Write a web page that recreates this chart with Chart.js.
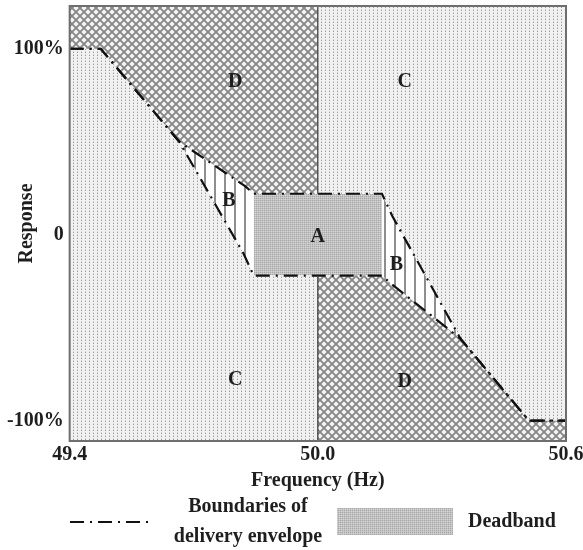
<!DOCTYPE html>
<html>
<head>
<meta charset="utf-8">
<script src="https://cdn.jsdelivr.net/npm/chart.js@4.4.0/dist/chart.umd.min.js"></script>
<style>
  html, body { margin: 0; padding: 0; background: #fff; }
  #wrap { width: 583px; height: 550px; }
</style>
</head>
<body>
<div id="wrap"><canvas id="mychart" width="583" height="550"></canvas></div>
<script>
// akser
const xTicks = [49.4, 50.0, 50.6];
const yTicks = [-100, 0, 100];
const xMin = 49.4, xMax = 50.6;
const yMin = -111, yMax = 123;

// grensene for leveringsomraadet (to linjer som deler seg rundt B)
const upperX = [49.4, 49.475, 49.665, 49.825, 49.845, 50.155, 50.18, 50.345, 50.51, 50.6];
const upperY = [100, 100, 50, 26, 22, 22, 10, -56, -100, -100];
const lowerX = [49.4, 49.475, 49.665, 49.82, 49.845, 50.155, 50.175, 50.345, 50.51, 50.6];
const lowerY = [100, 100, 50, -10, -22, -22, -26, -56, -100, -100];

// nominell frekvens
const nominal = 50.0;

// bokstaver i feltene
const regionLabels = ['D', 'C', 'B', 'A', 'B', 'C', 'D'];
const labelX = [49.8, 50.21, 49.785, 50.0, 50.19, 49.8, 50.21];
const labelY = [82, 82, 18, -1, -16, -78, -79];

const serif = '"Liberation Serif", "Times New Roman", serif';

// henter punkter fra i til j (kan gaa baklengs)
function pts(xs, ys, i, j) {
    const out = [];
    const step = i <= j ? 1 : -1;
    for (let k = i; k !== j + step; k += step) out.push({x: xs[k], y: ys[k]});
    return out;
}

// moenstre
const helper = document.createElement('canvas').getContext('2d');
function makePattern(w, h, draw) {
    const c = document.createElement('canvas');
    c.width = w; c.height = h;
    draw(c.getContext('2d'));
    return helper.createPattern(c, 'repeat');
}
const dots = makePattern(4, 3, g => {
    g.fillStyle = '#f1f1f1'; g.fillRect(0, 0, 4, 3);
    g.fillStyle = '#9a9a9a'; g.fillRect(1, 1, 1, 1);
    g.fillStyle = '#d2d2d2'; g.fillRect(1, 0, 1, 1);
});
const cross = makePattern(8, 8, g => {
    g.fillStyle = '#f4f4f4'; g.fillRect(0, 0, 8, 8);
    g.strokeStyle = '#858585'; g.lineWidth = 1.8;
    g.beginPath();
    g.moveTo(-1, -1); g.lineTo(9, 9);
    g.moveTo(9, -1); g.lineTo(-1, 9);
    g.stroke();
});
const dead = makePattern(2, 2, g => {
    g.fillStyle = '#c2c2c2'; g.fillRect(0, 0, 2, 2);
    g.fillStyle = '#a8a8a8'; g.fillRect(0, 0, 1, 1);
    g.fillStyle = '#d4d4d4'; g.fillRect(1, 1, 1, 1);
});
const stripes = makePattern(10, 1, g => {
    g.fillStyle = '#ffffff'; g.fillRect(0, 0, 10, 1);
    g.fillStyle = '#8e8e8e'; g.fillRect(4, 0, 2, 1);
});

function area(data, pattern) {
    return {
        data: data, showLine: true, fill: 'shape', backgroundColor: pattern,
        borderWidth: 0, pointRadius: 0, tension: 0, order: 5
    };
}
function line(data, color, width, dash) {
    return {
        data: data, showLine: true, fill: false, borderColor: color,
        borderWidth: width, borderDash: dash || [], pointRadius: 0, tension: 0, order: 0
    };
}

const aTop = upperY[4], aBot = lowerY[4];
const dashDot = [14, 6, 2, 6];

const datasets = [
    // D oppe til venstre
    area([{x: xMin, y: yMax}, {x: nominal, y: yMax}, {x: nominal, y: aTop}].concat(pts(upperX, upperY, 4, 0)), cross),
    // C nede til venstre
    area(pts(lowerX, lowerY, 0, 4).concat([{x: nominal, y: aBot}, {x: nominal, y: yMin}, {x: xMin, y: yMin}]), dots),
    // C oppe til hoyre
    area([{x: nominal, y: yMax}, {x: xMax, y: yMax}].concat(pts(upperX, upperY, 9, 5), [{x: nominal, y: aTop}]), dots),
    // D nede til hoyre
    area([{x: nominal, y: yMin}, {x: xMax, y: yMin}].concat(pts(lowerX, lowerY, 9, 5), [{x: nominal, y: aBot}]), cross),
    // B venstre og hoyre
    area(pts(upperX, upperY, 2, 4).concat(pts(lowerX, lowerY, 4, 2)), stripes),
    area(pts(upperX, upperY, 5, 7).concat(pts(lowerX, lowerY, 7, 5)), stripes),
    // A doedbaand
    area(pts(upperX, upperY, 4, 5).concat(pts(lowerX, lowerY, 5, 4)), dead),
    // 50 Hz linja
    line([{x: nominal, y: yMax}, {x: nominal, y: aTop}], '#3a3a3a', 1.2),
    line([{x: nominal, y: aBot}, {x: nominal, y: yMin}], '#3a3a3a', 1.2),
    // grenselinjer
    line(pts(upperX, upperY, 0, upperX.length - 1), '#111', 2.2, dashDot),
    line(pts(lowerX, lowerY, 0, lowerX.length - 1), '#111', 2.2, dashDot)
];

// ramme, bokstaver, y-tittel og forklaring
const extras = {
    id: 'extras',
    afterDatasetsDraw(chart) {
        const ctx = chart.ctx;
        const ca = chart.chartArea;
        const xs = chart.scales.x, ys = chart.scales.y;
        ctx.save();
        ctx.strokeStyle = '#6e6e6e';
        ctx.lineWidth = 2;
        ctx.strokeRect(ca.left, ca.top, ca.right - ca.left, ca.bottom - ca.top);

        ctx.fillStyle = '#1e1e1e';
        ctx.font = 'bold 20px ' + serif;
        ctx.textAlign = 'center';
        ctx.textBaseline = 'middle';
        regionLabels.forEach((t, i) => {
            ctx.fillText(t, xs.getPixelForValue(labelX[i]), ys.getPixelForValue(labelY[i]));
        });

        // y-tittel
        ctx.save();
        ctx.translate(27, (ca.top + ca.bottom) / 2);
        ctx.rotate(-Math.PI / 2);
        ctx.fillText('Response', 0, 0);
        ctx.restore();

        // forklaring
        ctx.strokeStyle = '#111';
        ctx.lineWidth = 2.2;
        ctx.setLineDash(dashDot);
        ctx.beginPath();
        ctx.moveTo(70, 522);
        ctx.lineTo(154, 522);
        ctx.stroke();
        ctx.setLineDash([]);
        ctx.fillText('Boundaries of', 248, 507);
        ctx.fillText('delivery envelope', 248, 537);
        ctx.fillStyle = dead;
        ctx.fillRect(337, 508, 116, 27);
        ctx.fillStyle = '#1e1e1e';
        ctx.textAlign = 'left';
        ctx.fillText('Deadband', 468, 522);
        ctx.restore();
    }
};

Chart.defaults.font.family = serif;
Chart.defaults.font.size = 20;
Chart.defaults.font.weight = 'bold';
Chart.defaults.color = '#1e1e1e';

const mychart = new Chart(document.getElementById('mychart'), {
    type: 'scatter',
    data: {datasets: datasets},
    options: {
        responsive: false,
        animation: false,
        layout: {padding: {top: 6, right: 17, bottom: 57, left: 1}},
        plugins: {legend: {display: false}, tooltip: {enabled: false}},
        scales: {
            x: {
                type: 'linear', min: xMin, max: xMax,
                grid: {display: false, drawTicks: false}, border: {display: false},
                afterBuildTicks: s => { s.ticks = xTicks.map(v => ({value: v})); },
                afterFit: s => { s.paddingLeft = 0; s.paddingRight = 0; },
                ticks: {padding: 2, maxRotation: 0, callback: v => Number(v).toFixed(1)},
                title: {display: true, text: 'Frequency (Hz)', padding: {top: 0, bottom: 0}}
            },
            y: {
                type: 'linear', min: yMin, max: yMax,
                grid: {display: false, drawTicks: false}, border: {display: false},
                afterBuildTicks: s => { s.ticks = yTicks.map(v => ({value: v})); },
                afterFit: s => { s.paddingTop = 0; s.paddingBottom = 0; },
                ticks: {padding: 6, callback: v => v === 0 ? '0' : v + '%'}
            }
        }
    },
    plugins: [extras]
});
</script>
</body>
</html>
